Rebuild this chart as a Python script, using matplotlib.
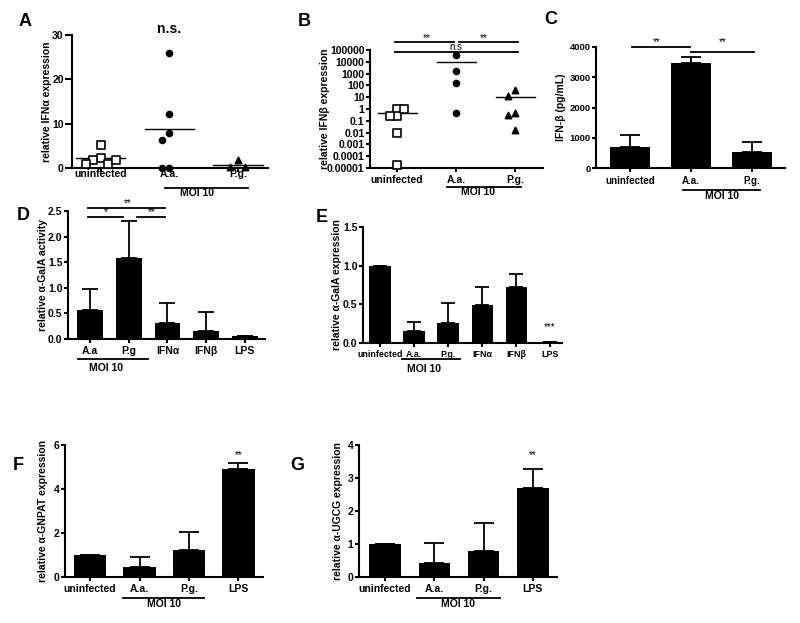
import matplotlib
matplotlib.use("Agg")
import matplotlib.pyplot as plt
import numpy as np
from matplotlib.transforms import ScaledTranslation

plt.rcParams['font.family'] = ['Liberation Sans', 'DejaVu Sans']
plt.rcParams['font.weight'] = 'bold'
plt.rcParams['font.size'] = 7.5
plt.rcParams['axes.linewidth'] = 1.5

# ---- data ----
groups3 = ['uninfected', 'A.a.', 'P.g.']

# A: relative IFNa expression (individual points)
a_unf = [2.2, 1.7, 0.9, 5.2, 1.0, 1.9]
a_aa = [26.0, 12.2, 8.0, 6.4, 0.0, 0.0]
a_pg = [1.8, 0.25, 0.2]

# B: relative IFNb expression (log scale)
b_unf = [1.0, 0.25, 0.28, 1.0, 0.01, 0.000017]
b_aa = [38000, 1740, 166, 0.47]
b_pg = [40, 12, 0.5, 0.3, 0.018]
b_ticks = [1e-5, 1e-4, 1e-3, 1e-2, 1e-1, 1, 10, 100, 1000, 10000, 100000]
b_ticklabels = ['0.00001', '0.0001', '0.001', '0.01', '0.1', '1', '10', '100',
                '1000', '10000', '100000']

# C: IFN-b ELISA
c_mean = [700, 3470, 520]
c_sem = [390, 210, 350]

# D: relative a-GalA activity
d_groups = ['A.a', 'P.g', 'IFN\u03b1', 'IFN\u03b2', 'LPS']
d_mean = [0.57, 1.59, 0.32, 0.16, 0.05]
d_sem = [0.41, 0.71, 0.38, 0.37, 0.0]

# E: relative a-GalA expression
e_groups = ['uninfected', 'A.a.', 'P.g.', 'IFN\u03b1', 'IFN\u03b2', 'LPS']
e_mean = [1.0, 0.15, 0.26, 0.49, 0.73, 0.013]
e_sem = [0.0, 0.12, 0.26, 0.23, 0.16, 0.0]

# F: relative a-GNPAT expression
fg_groups = ['uninfected', 'A.a.', 'P.g.', 'LPS']
f_mean = [1.0, 0.46, 1.22, 4.92]
f_sem = [0.0, 0.45, 0.84, 0.26]

# G: relative a-UGCG expression
g_mean = [1.0, 0.43, 0.79, 2.70]
g_sem = [0.0, 0.60, 0.85, 0.57]

W, H = 800, 623
fig = plt.figure(figsize=(W / 100, H / 100), dpi=100)


def axes_px(l, t, r, b):
    return fig.add_axes([l / W, 1 - b / H, (r - l) / W, (b - t) / H])


def style(ax, xpad=2, ylen=3, xsize=7.5, ysize=7.5):
    for s in ['top', 'right']:
        ax.spines[s].set_visible(False)
    for s in ['left', 'bottom']:
        ax.spines[s].set_linewidth(1.5)
    ax.tick_params(axis='x', direction='out', length=3, width=1.5, pad=xpad,
                   labelsize=xsize)
    ax.tick_params(axis='y', direction='out', length=ylen, width=1.5, pad=1,
                   labelsize=ysize)
    ax.tick_params(axis='y', which='minor', left=False)


def ylabel(ax, text, x_px, l, r):
    ax.set_ylabel(text, fontweight='bold')
    ax.yaxis.set_label_coords((x_px - l) / (r - l), 0.5)


def moi(ax, x0, x1, xt, dline, dtext):
    tl = ax.get_xaxis_transform() + ScaledTranslation(0, -dline / 100, fig.dpi_scale_trans)
    tt = ax.get_xaxis_transform() + ScaledTranslation(0, -dtext / 100, fig.dpi_scale_trans)
    ax.plot([x0, x1], [0, 0], transform=tl, color='black', lw=1.3, clip_on=False)
    ax.text(xt, 0, 'MOI 10', transform=tt, ha='center', va='center', clip_on=False)


def sig(ax, x0, x1, y, label, xt, yt, size=7):
    ax.plot([x0, x1], [y, y], color='black', lw=1.3, clip_on=False)
    ax.text(xt, yt, label, ha='center', va='center', fontsize=size,
            fontweight='normal', clip_on=False)


def swarm_x(ax, xc, vals, gap=7.0):
    xy = ax.transData.transform([(xc, v) for v in vals])
    placed = []
    xs = []
    for px, py in xy:
        k = 0
        while True:
            cands = [0] if k == 0 else [-k, k]
            free = [c for c in cands
                    if all(c != s or abs(py - q) >= gap for s, q in placed)]
            if free:
                slot = free[0]
                break
            k += 1
        placed.append((slot, py))
        xs.append(px + slot * gap)
    inv = ax.transData.inverted()
    return [inv.transform((x, y))[0] for x, (_, y) in zip(xs, xy)]


def bars(ax, means, sems, width, cap):
    x = np.arange(len(means))
    ax.bar(x, means, width=width, color='black', edgecolor='black', linewidth=0)
    ax.errorbar(x, means, yerr=[np.zeros(len(x)), sems], fmt='none', ecolor='black',
                elinewidth=1.3, capsize=cap, capthick=1.3)
    return x


def letter(x_px, y_px, s):
    fig.text(x_px / W, 1 - y_px / H, s, fontsize=13, fontweight='bold',
             ha='center', va='center')


# ---------------- A ----------------
axA = axes_px(72, 35, 268, 168)
axA.set_xlim(-0.42, 2.44)
axA.set_ylim(0, 30)
axA.set_yticks([0, 10, 20, 30])
axA.set_xticks(range(3))
axA.set_xticklabels(groups3)
style(axA, xpad=-2, ylen=5)
for i, (vals, mk, fc, ms) in enumerate([(a_unf, 's', 'white', 26),
                                         (a_aa, 'o', 'black', 18),
                                         (a_pg, '^', 'black', 20)]):
    xs = swarm_x(axA, i, vals, gap=7.5)
    axA.scatter(xs, vals, marker=mk, s=ms, facecolor=fc, edgecolor='black',
                linewidth=1.2, clip_on=False, zorder=3)
    m = np.mean(vals)
    axA.plot([i - 0.36, i + 0.36], [m, m], color='black', lw=1.0)
axA.text(0.99, 31.4, 'n.s.', ha='center', va='center', fontsize=10, clip_on=False)
ylabel(axA, 'relative IFN\u03b1 expression', 52, 72, 268)
moi(axA, 0.93, 2.15, 1.40, 20, 25)
letter(25, 21, 'A')

# ---------------- B ----------------
axB = axes_px(370, 50, 543, 168)
axB.set_yscale('log')
axB.set_xlim(-0.46, 2.47)
axB.set_ylim(1e-5, 1e5)
axB.set_yticks(b_ticks)
axB.set_yticklabels(b_ticklabels)
axB.set_xticks(range(3))
axB.set_xticklabels(groups3)
style(axB, xpad=2)
for i, (vals, mk, fc, ms) in enumerate([(b_unf, 's', 'white', 26),
                                         (b_aa, 'o', 'black', 18),
                                         (b_pg, '^', 'black', 20)]):
    xs = swarm_x(axB, i, vals, gap=7.0)
    axB.scatter(xs, vals, marker=mk, s=ms, facecolor=fc, edgecolor='black',
                linewidth=1.2, clip_on=False, zorder=3)
    m = np.mean(vals)
    axB.plot([i - 0.33, i + 0.33], [m, m], color='black', lw=1.0)
sig(axB, -0.03, 0.97, 10 ** 5.7, '**', 0.5, 10 ** 6.05)
sig(axB, 1.05, 2.05, 10 ** 5.7, '**', 1.46, 10 ** 6.05)
sig(axB, -0.03, 2.05, 10 ** 4.86, 'n.s', 1.0, 10 ** 5.25)
ylabel(axB, 'relative IFN\u03b2 expression', 330, 370, 543)
moi(axB, 0.85, 2.10, 1.37, 19, 24)
letter(304, 21, 'B')

# ---------------- C ----------------
axC = axes_px(596, 47, 785, 168)
axC.set_xlim(-0.56, 2.54)
axC.set_ylim(0, 4000)
axC.set_yticks([0, 1000, 2000, 3000, 4000])
xC = bars(axC, c_mean, c_sem, 0.66, 7)
axC.set_xticks(xC)
axC.set_xticklabels(groups3)
style(axC, xpad=2.5, xsize=7, ysize=6.8)
sig(axC, 0.03, 0.98, 4000, '**', 0.44, 4150)
sig(axC, 1.0, 2.03, 3835, '**', 1.51, 4150)
ylabel(axC, 'IFN-\u03b2 (pg/mL)', 566, 596, 785)
moi(axC, 0.87, 2.13, 1.51, 22, 28)
letter(551, 20, 'C')

# ---------------- D ----------------
axD = axes_px(68, 211, 265, 339)
axD.set_xlim(-0.57, 4.52)
axD.set_ylim(0, 2.5)
axD.set_yticks([0, 0.5, 1.0, 1.5, 2.0, 2.5])
axD.set_yticklabels(['0.0', '0.5', '1.0', '1.5', '2.0', '2.5'])
xD = bars(axD, d_mean, d_sem, 0.67, 6)
axD.set_xticks(xD)
axD.set_xticklabels(d_groups)
style(axD, xpad=2)
sig(axD, -0.05, 1.94, 2.56, '**', 0.96, 2.66)
sig(axD, -0.05, 0.85, 2.38, '*', 0.41, 2.47)
sig(axD, 1.21, 1.94, 2.38, '**', 1.58, 2.47)
ylabel(axD, 'relative \u03b1-GalA activity', 48, 68, 265)
moi(axD, -0.31, 1.50, 0.4, 20, 29)
letter(23, 216, 'D')

# ---------------- E ----------------
axE = axes_px(363, 227, 562, 343)
axE.set_xlim(-0.5, 5.35)
axE.set_ylim(0, 1.5)
axE.set_yticks([0, 0.5, 1.0, 1.5])
axE.set_yticklabels(['0.0', '0.5', '1.0', '1.5'])
xE = bars(axE, e_mean, e_sem, 0.62, 5)
axE.set_xticks(xE)
axE.set_xticklabels(e_groups)
style(axE, xpad=2, xsize=6.4)
axE.text(5, 0.21, '***', ha='center', va='center', fontsize=7, fontweight='normal')
ylabel(axE, 'relative \u03b1-GalA expression', 342, 363, 562)
moi(axE, 0.65, 2.35, 1.3, 16, 26)
letter(322, 217, 'E')

# ---------------- F ----------------
axF = axes_px(65, 445, 263, 577)
axF.set_xlim(-0.51, 3.5)
axF.set_ylim(0, 6)
axF.set_yticks([0, 2, 4, 6])
xF = bars(axF, f_mean, f_sem, 0.66, 7)
axF.set_xticks(xF)
axF.set_xticklabels(fg_groups)
style(axF, xpad=2)
axF.text(3, 5.55, '**', ha='center', va='center', fontsize=7, fontweight='normal')
ylabel(axF, 'relative \u03b1-GNPAT expression', 48, 65, 263)
moi(axF, 0.67, 2.31, 1.5, 21, 27)
letter(18, 465, 'F')

# ---------------- G ----------------
axG = axes_px(359, 445, 557, 577)
axG.set_xlim(-0.53, 3.49)
axG.set_ylim(0, 4)
axG.set_yticks([0, 1, 2, 3, 4])
xG = bars(axG, g_mean, g_sem, 0.64, 7)
axG.set_xticks(xG)
axG.set_xticklabels(fg_groups)
style(axG, xpad=2)
axG.text(3, 3.7, '**', ha='center', va='center', fontsize=7, fontweight='normal')
ylabel(axG, 'relative \u03b1-UGCG expression', 343, 359, 557)
moi(axG, 0.65, 2.33, 1.48, 21, 27)
letter(297, 465, 'G')

fig.savefig('out.png', dpi=100, facecolor='white')
